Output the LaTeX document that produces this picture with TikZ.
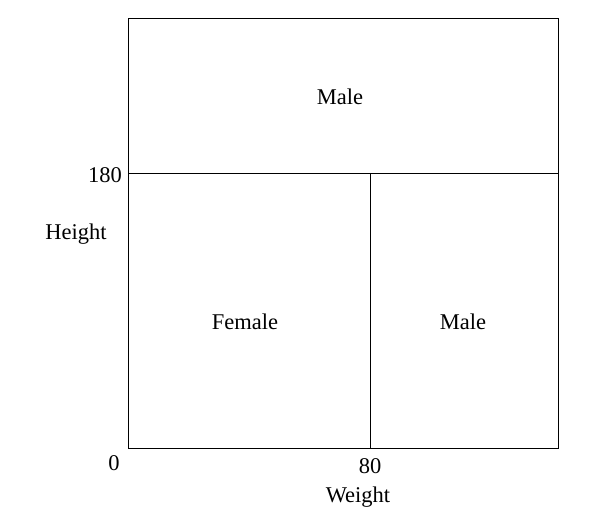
\documentclass[tikz,border=0pt]{standalone}
\usepackage{fontspec}
\setmainfont{Liberation Serif}
\usepackage{tikz}
\usetikzlibrary{positioning,calc}

\begin{document}
\begin{tikzpicture}[
    x=0.025cm, y=-0.025cm,
    region/.style={draw, line width=0.6pt},
    lbl/.style={font=\fontsize{16}{19}\selectfont, inner sep=0pt}
]
    \useasboundingbox (0,0) rectangle (593,525);
    \coordinate (nw) at (128,18);
    \coordinate (se) at (558,448);
    \coordinate (split) at (128,173);
    \coordinate (splitend) at (558,173);
    \coordinate (cut) at (370,173);
    \coordinate (cutend) at (370,448);

    \draw[region] (nw) rectangle (se);
    \draw[region] (split) -- (splitend);
    \draw[region] (cut) -- (cutend);

    \node[lbl] (maletop) at (340,97) {Male};
    \node[lbl] (female) at (245,322) {Female};
    \node[lbl] (maleright) at (463,322) {Male};
    \node[lbl] (tick180) at (105,175) {180};
    \node[lbl] (height) at (76,234) {Height};
    \node[lbl] (tick0) at (114,463) {0};
    \node[lbl] (tick80) at (370,466) {80};
    \node[lbl] (weight) at (358,497) {Weight};
\end{tikzpicture}
\end{document}
